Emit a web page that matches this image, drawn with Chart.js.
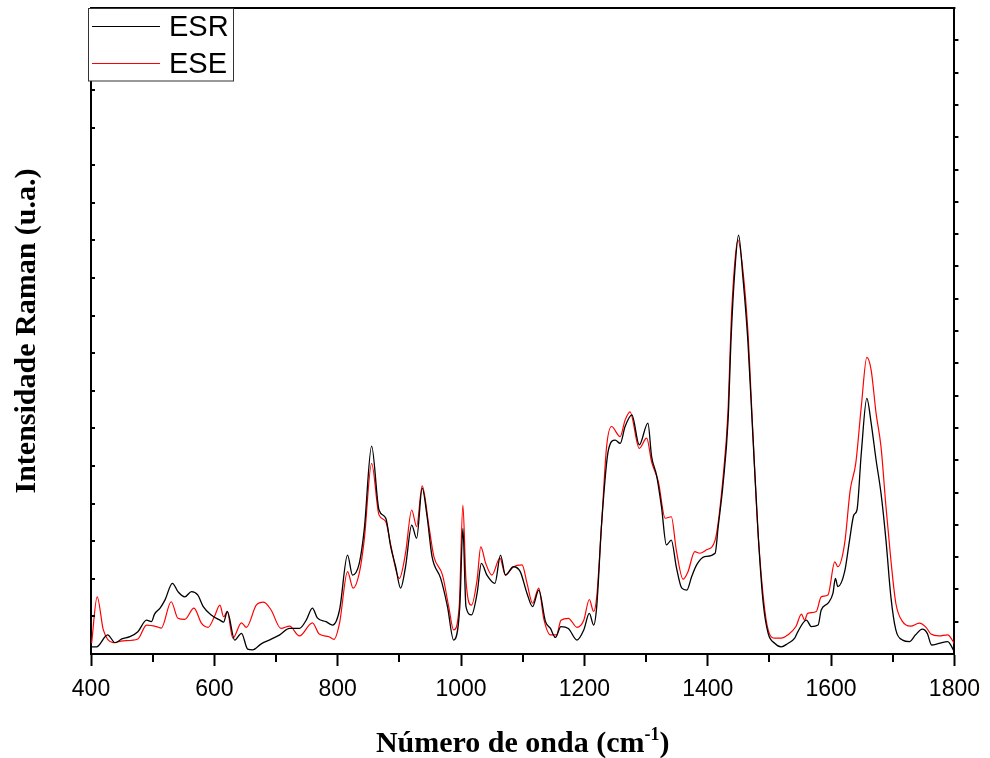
<!DOCTYPE html>
<html>
<head>
<meta charset="utf-8">
<title>Espectro Raman ESR / ESE</title>
<script src="https://cdn.jsdelivr.net/npm/chart.js@4.4.0/dist/chart.umd.min.js"></script>
<style>
  html, body { margin: 0; padding: 0; background: #fff; }
  #wrap { width: 990px; height: 758px; position: relative; }
</style>
</head>
<body>
<div id="wrap"><canvas id="raman"></canvas></div>
<script>
// Número de onda (cm-1) e intensidade
const esrWn = [401, 409, 427, 439, 450, 463, 476, 490, 498, 503,
  512, 520, 532, 541, 552, 563, 573, 582, 595, 609,
  615, 621, 633, 644, 654, 662, 676, 689, 706, 722,
  738, 749, 759, 767, 781, 792, 803, 816, 824, 835,
  843, 855, 867, 878, 886, 894, 902, 910, 920, 928,
  937, 945, 953, 967, 978, 988, 998, 1003, 1008, 1017,
  1026, 1033, 1042, 1055, 1064, 1072, 1085, 1096, 1107, 1116,
  1126, 1137, 1145, 1153, 1162, 1174, 1188, 1199, 1208, 1215,
  1220, 1228, 1239, 1250, 1258, 1266, 1277, 1289, 1303, 1309,
  1317, 1325, 1333, 1341, 1349, 1358, 1366, 1374, 1382, 1395,
  1412, 1417, 1425, 1433, 1438, 1444, 1450, 1457, 1465, 1473,
  1482, 1490, 1498, 1509, 1519, 1530, 1541, 1546, 1560, 1568,
  1579, 1584, 1595, 1603, 1607, 1611, 1622, 1630, 1637, 1642,
  1649, 1658, 1665, 1673, 1681, 1689, 1697, 1705, 1716, 1727,
  1737, 1748, 1756, 1763, 1775, 1789, 1800];
const esrInt = [0.19, 0.19, 0.51, 0.30, 0.40, 0.46, 0.59, 0.90, 0.86, 1.06,
  1.22, 1.44, 1.88, 1.66, 1.52, 1.66, 1.57, 1.26, 1.04, 0.90,
  0.85, 1.13, 0.37, 0.55, 0.13, 0.11, 0.27, 0.37, 0.51, 0.68,
  0.68, 0.90, 1.22, 0.96, 0.86, 0.77, 1.17, 2.63, 2.10, 2.41,
  3.30, 5.53, 3.83, 3.61, 2.85, 2.32, 1.75, 2.32, 3.43, 3.08,
  4.41, 3.65, 2.59, 2.01, 1.26, 0.37, 1.26, 3.34, 1.26, 1.04,
  1.61, 2.41, 2.10, 1.88, 2.63, 2.10, 2.32, 2.19, 1.61, 1.26,
  1.70, 0.86, 0.68, 0.44, 0.73, 0.68, 0.37, 0.64, 1.08, 0.77,
  1.26, 3.48, 5.43, 5.69, 5.60, 6.05, 6.36, 5.56, 6.14, 5.25,
  4.76, 3.92, 2.90, 3.03, 2.32, 1.75, 1.70, 2.06, 2.37, 2.59,
  2.68, 3.39, 4.54, 6.22, 8.44, 10.21, 11.14, 10.03, 8.35, 5.87,
  3.12, 1.35, 0.55, 0.28, 0.19, 0.28, 0.42, 0.59, 0.90, 0.73,
  0.77, 1.17, 1.35, 1.61, 2.01, 1.79, 2.19, 3.03, 3.70, 3.83,
  5.34, 6.80, 6.14, 5.16, 4.27, 3.03, 1.52, 0.64, 0.37, 0.33,
  0.51, 0.66, 0.55, 0.24, 0.28, 0.33, 0.06];

const eseWn = [401, 410, 420, 436, 452, 476, 490, 506, 514, 530,
  541, 552, 567, 579, 590, 600, 609, 615, 621, 630,
  644, 652, 668, 680, 692, 708, 722, 738, 759, 770,
  786, 794, 803, 816, 825, 835, 843, 855, 867, 878,
  886, 900, 910, 920, 928, 937, 948, 956, 970, 980,
  988, 997, 1003, 1008, 1017, 1026, 1032, 1040, 1050, 1063,
  1072, 1085, 1099, 1107, 1116, 1126, 1134, 1145, 1155, 1162,
  1174, 1188, 1199, 1208, 1215, 1220, 1228, 1236, 1244, 1258,
  1266, 1274, 1289, 1301, 1309, 1320, 1331, 1341, 1349, 1360,
  1368, 1379, 1387, 1398, 1412, 1425, 1433, 1438, 1444, 1449,
  1457, 1465, 1473, 1482, 1498, 1509, 1519, 1530, 1543, 1552,
  1557, 1562, 1576, 1584, 1595, 1606, 1611, 1622, 1631, 1640,
  1649, 1658, 1665, 1673, 1681, 1689, 1697, 1705, 1716, 1729,
  1743, 1754, 1762, 1775, 1789, 1800];
const eseInt = [0.29, 1.52, 0.64, 0.30, 0.35, 0.40, 0.77, 0.73, 0.69, 1.39,
  0.95, 0.92, 1.22, 0.82, 0.71, 0.99, 1.30, 0.99, 1.13, 0.42,
  0.83, 0.71, 1.30, 1.38, 1.17, 0.68, 0.74, 0.48, 0.83, 0.53,
  0.46, 0.39, 0.82, 2.19, 1.75, 2.15, 3.03, 5.07, 3.70, 3.52,
  2.90, 2.01, 2.68, 3.83, 3.39, 4.47, 3.39, 2.59, 2.10, 1.26,
  0.64, 1.26, 3.96, 1.97, 1.30, 1.97, 2.85, 2.41, 2.10, 2.55,
  2.10, 2.32, 2.37, 1.88, 1.35, 1.75, 0.95, 0.51, 0.51, 0.90,
  0.95, 0.71, 0.90, 1.45, 1.13, 1.52, 3.48, 5.51, 6.05, 5.78,
  6.22, 6.44, 5.47, 5.74, 5.11, 4.58, 3.61, 3.65, 2.77, 1.99,
  2.19, 2.72, 2.68, 2.77, 3.03, 4.72, 6.49, 8.83, 10.43, 11.01,
  10.21, 8.62, 5.96, 3.12, 0.64, 0.42, 0.42, 0.51, 0.73, 1.06,
  0.90, 1.08, 1.13, 1.52, 1.57, 2.45, 2.32, 2.94, 4.36, 5.07,
  6.58, 7.89, 7.55, 6.40, 5.51, 3.92, 2.50, 1.35, 0.86, 0.74,
  0.82, 0.71, 0.53, 0.48, 0.51, 0.28];

// Eixos
const xMin = 400, xMax = 1800;
const xMajorStep = 200;
const xMinorTicks = [500, 700, 900, 1100, 1300, 1500, 1700];
const yLeftMax = 17.18;   // marcas internas do eixo esquerdo
const yRightMax = 20;     // marcas do eixo direito

const serif = '"Liberation Serif", "Times New Roman", serif';
const sans = '"Liberation Sans", Arial, sans-serif';

function toPoints(xs, ys) {
  return xs.map((x, i) => ({ x: x, y: ys[i] }));
}

// Moldura, marcas menores, legenda e título do eixo x (com sobrescrito)
const framePlugin = {
  id: 'frame',
  afterDraw(chart) {
    const ctx = chart.ctx;
    const a = chart.chartArea;
    const xs = chart.scales.x, yl = chart.scales.y, yr = chart.scales.y2;
    ctx.save();
    ctx.strokeStyle = '#000';
    ctx.lineWidth = 2;
    ctx.beginPath();
    ctx.moveTo(a.left - 1, a.top);
    ctx.lineTo(a.right + 1, a.top);
    xMinorTicks.forEach(v => {
      const px = Math.round(xs.getPixelForValue(v));
      ctx.moveTo(px, a.bottom);
      ctx.lineTo(px, a.bottom + 8);
    });
    for (let k = 1; k < yLeftMax; k++) {
      const py = Math.round(yl.getPixelForValue(k));
      ctx.moveTo(a.left, py);
      ctx.lineTo(a.left + 4, py);
    }
    for (let k = 1; k < yRightMax; k++) {
      const py = Math.round(yr.getPixelForValue(k));
      ctx.moveTo(a.right, py);
      ctx.lineTo(a.right + 4, py);
    }
    ctx.stroke();

    // legenda
    ctx.fillStyle = '#fff';
    ctx.fillRect(88.5, 8.5, 145, 72.5);
    ctx.strokeStyle = '#333';
    ctx.lineWidth = 1;
    ctx.strokeRect(88.5, 8.5, 145, 72.5);
    ctx.font = '29px ' + sans;
    ctx.textBaseline = 'middle';
    ctx.textAlign = 'left';
    chart.data.datasets.forEach((ds, i) => {
      const y = 26.5 + i * 37;
      ctx.strokeStyle = ds.borderColor;
      ctx.beginPath();
      ctx.moveTo(92, y);
      ctx.lineTo(160, y);
      ctx.stroke();
      ctx.fillStyle = '#000';
      ctx.fillText(ds.label, 169, y + 1);
    });

    // título do eixo x
    const main = 'Número de onda (cm', sup = '-1', end = ')';
    const fMain = 'bold 30px ' + serif, fSup = 'bold 18px ' + serif;
    ctx.textBaseline = 'alphabetic';
    ctx.font = fMain;
    const wMain = ctx.measureText(main).width, wEnd = ctx.measureText(end).width;
    ctx.font = fSup;
    const wSup = ctx.measureText(sup).width;
    let tx = (a.left + a.right) / 2 - (wMain + wSup + wEnd) / 2;
    const base = 752;
    ctx.fillStyle = '#000';
    ctx.font = fMain;
    ctx.fillText(main, tx, base);
    tx += wMain;
    ctx.font = fSup;
    ctx.fillText(sup, tx, base - 12);
    tx += wSup;
    ctx.font = fMain;
    ctx.fillText(end, tx, base);
    ctx.restore();
  }
};

Chart.defaults.font.family = sans;
Chart.defaults.color = '#000';

const chart = new Chart(document.getElementById('raman'), {
  type: 'line',
  data: {
    datasets: [
      {
        label: 'ESR',
        data: toPoints(esrWn, esrInt),
        borderColor: '#000000',
        borderWidth: 1.3,
        pointRadius: 0,
        cubicInterpolationMode: 'monotone',
        fill: false,
        yAxisID: 'y'
      },
      {
        label: 'ESE',
        data: toPoints(eseWn, eseInt),
        borderColor: '#ff0000',
        borderWidth: 1.2,
        pointRadius: 0,
        cubicInterpolationMode: 'monotone',
        fill: false,
        yAxisID: 'y'
      }
    ]
  },
  options: {
    responsive: true,
    maintainAspectRatio: false,
    animation: false,
    layout: { padding: { top: 8, left: 0, right: 0, bottom: 0 } },
    plugins: {
      legend: { display: false },
      tooltip: { enabled: false }
    },
    scales: {
      x: {
        type: 'linear',
        position: 'bottom',
        min: xMin,
        max: xMax,
        ticks: {
          stepSize: xMajorStep,
          autoSkip: false,
          maxRotation: 0,
          padding: 10,
          color: '#000',
          font: { size: 23, family: sans },
          callback: v => String(v)
        },
        grid: { drawOnChartArea: false, tickLength: 12, tickWidth: 2, tickColor: '#000' },
        border: { display: true, color: '#000', width: 2 },
        afterFit(scale) { scale.height = 104; }
      },
      y: {
        position: 'left',
        min: 0,
        max: yLeftMax,
        ticks: { display: false, stepSize: 1 },
        grid: { drawOnChartArea: false, drawTicks: false },
        border: { display: true, color: '#000', width: 2 },
        title: {
          display: true,
          text: 'Intensidade Raman (u.a.)',
          color: '#000',
          font: { family: serif, size: 30, weight: 'bold' },
          padding: { top: 9, bottom: 0 }
        },
        afterFit(scale) { scale.width = 91; }
      },
      y2: {
        position: 'right',
        min: 0,
        max: yRightMax,
        ticks: { display: false, stepSize: 1 },
        grid: { drawOnChartArea: false, drawTicks: false },
        border: { display: true, color: '#000', width: 2 },
        afterFit(scale) { scale.width = 31; }
      }
    }
  },
  plugins: [framePlugin]
});
</script>
</body>
</html>
